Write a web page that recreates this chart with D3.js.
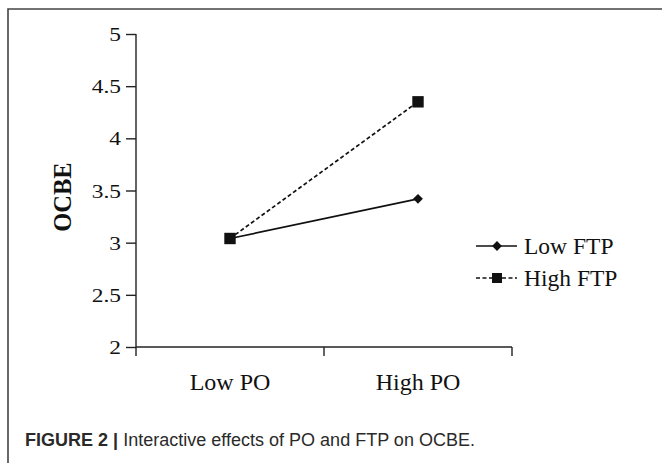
<!DOCTYPE html>
<html><head><meta charset="utf-8">
<script src="https://cdn.jsdelivr.net/npm/d3@7/dist/d3.min.js"></script>
<style>body{margin:0;background:#fff}svg{display:block}</style>
</head><body><svg id="c" width="662" height="463"></svg>
<script>
const categories = ["Low PO", "High PO"];
const seriesNames = ["Low FTP", "High FTP"];
const lowFTP = [3.04, 3.42];
const highFTP = [3.04, 4.35];
const yTicks = [2, 2.5, 3, 3.5, 4, 4.5, 5];
const yTickLabels = ["2", "2.5", "3", "3.5", "4", "4.5", "5"];

const svg = d3.select("#c");
const serif = "'Liberation Serif','Times New Roman',serif";

// frame
svg.append("path").attr("d", "M8,470 L8,9 L670,9")
  .attr("fill", "none").attr("stroke", "#444").attr("stroke-width", 1.6);

const x = d3.scaleBand().domain(categories).range([136, 512]);
const y = d3.scaleLinear().domain([2, 5]).range([347, 34]);

// y axis
const yAxis = svg.append("g").attr("transform", "translate(136,0)")
  .call(d3.axisLeft(y).tickValues(yTicks).tickSize(10).tickPadding(0)
    .tickFormat((d, i) => yTickLabels[i]));
yAxis.attr("font-family", serif);
yAxis.select(".domain").attr("d", `M0,${y(5)}V${y(2)}`).attr("stroke", "#222").attr("stroke-width", 1.4);
yAxis.selectAll(".tick line").attr("stroke", "#222").attr("stroke-width", 1.4);
yAxis.selectAll(".tick text").attr("font-family", serif).attr("font-size", 19.5)
  .attr("fill", "#111").attr("x", 0).attr("dy", "0.34em")
  .attr("transform", "translate(-15,0) scale(1.2,1)");

// x axis
const xAxis = svg.append("g").attr("transform", `translate(0,${y(2)})`)
  .call(d3.axisBottom(x).tickSize(0).tickPadding(26));
xAxis.attr("font-family", serif);
xAxis.select(".domain").attr("d", "M136,0H512").attr("stroke", "#222").attr("stroke-width", 1.4);
xAxis.selectAll(".tick text").attr("font-family", serif).attr("font-size", 24).attr("fill", "#111");
const bounds = [x.range()[0], ...categories.slice(1).map(c => x(c)), x.range()[1]];
xAxis.selectAll(".sep").data(bounds).join("line").attr("class", "sep")
  .attr("x1", d => d).attr("x2", d => d).attr("y1", 0).attr("y2", 9)
  .attr("stroke", "#222").attr("stroke-width", 1.4);

// y label
svg.append("text").attr("transform", "translate(71,197) rotate(-90)")
  .attr("text-anchor", "middle").attr("font-family", serif).attr("font-weight", "bold")
  .attr("font-size", 24.5).attr("fill", "#111").text("OCBE");

const cx = c => x(c) + x.bandwidth() / 2;
const line = d3.line().x((d, i) => cx(categories[i])).y(d => y(d));

// Low FTP
svg.append("path").datum(lowFTP).attr("d", line).attr("fill", "none")
  .attr("stroke", "#111").attr("stroke-width", 1.7);
// High FTP
svg.append("path").datum(highFTP).attr("d", line).attr("fill", "none")
  .attr("stroke", "#111").attr("stroke-width", 1.7).attr("stroke-dasharray", "4,2.5");

const diamond = d3.symbol().type(d3.symbolSquare).size(48);
const square = d3.symbol().type(d3.symbolSquare).size(130);
svg.selectAll(".dm").data(lowFTP).join("path").attr("class", "dm")
  .attr("transform", (d, i) => `translate(${cx(categories[i])},${y(d)}) rotate(45)`)
  .attr("d", diamond).attr("fill", "#111");
svg.selectAll(".sq").data(highFTP).join("path").attr("class", "sq")
  .attr("transform", (d, i) => `translate(${cx(categories[i])},${y(d)})`)
  .attr("d", square).attr("fill", "#111");

// legend
const lg = svg.append("g");
[0, 1].forEach(i => {
  const yy = 246 + i * 32;
  lg.append("line").attr("x1", 476).attr("x2", 517).attr("y1", yy).attr("y2", yy)
    .attr("stroke", "#111").attr("stroke-width", 1.7)
    .attr("stroke-dasharray", i === 1 ? "4,2.5" : null);
  lg.append("path").attr("transform", `translate(497,${yy})` + (i === 0 ? " rotate(45)" : ""))
    .attr("d", i === 0 ? diamond : d3.symbol().type(d3.symbolSquare).size(100)).attr("fill", "#111");
  lg.append("text").attr("x", 524).attr("y", yy + 8).attr("font-family", serif)
    .attr("font-size", 23.5).attr("fill", "#111").text(seriesNames[i]);
});

// caption
const cap = svg.append("text").attr("x", 25).attr("y", 446)
  .attr("font-family", "'Liberation Sans Narrow','Liberation Sans',Arial,sans-serif").attr("font-size", 17.5).attr("fill", "#2a2a2a")
  .attr("textLength", 450).attr("lengthAdjust", "spacingAndGlyphs");
cap.append("tspan").attr("font-weight", "bold").text("FIGURE 2 | ");
cap.append("tspan").text("Interactive effects of PO and FTP on OCBE.");
</script></body></html>
